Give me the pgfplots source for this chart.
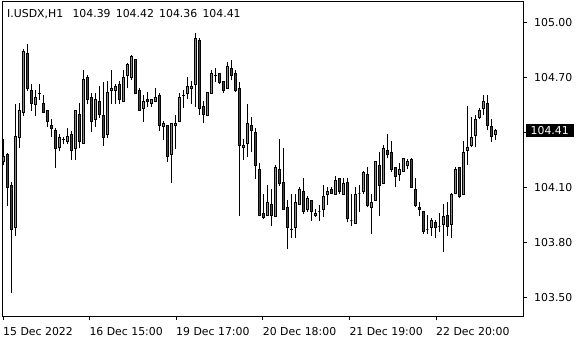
\documentclass[border=0pt]{standalone}
\usepackage{pgfplots}
\usepackage{pgfplotstable}
\pgfplotsset{compat=1.18}
\usepackage{fontspec}
\newfontfamily\mtfont{DejaVu Sans}
\newcommand\mtf{\mtfont\fontsize{10.9bp}{13bp}\selectfont}
\definecolor{bull}{RGB}{60,190,60}
\definecolor{bear}{RGB}{205,10,10}

\pgfdeclareplotmark{candle}{%
  \pgfsetlinewidth{1bp}%
  \pgfsetstrokecolor{black}%
  \pgfpathmoveto{\pgfpoint{0bp}{\cdL bp}}%
  \pgfpathlineto{\pgfpoint{0bp}{\cdH bp}}%
  \pgfusepath{stroke}%
  \ifdim\cdC pt<0pt\relax \pgfsetfillcolor{bear}\else\pgfsetfillcolor{bull}\fi
  \pgfpathrectanglecorners{\pgfpoint{-1bp}{0bp}}{\pgfpoint{1bp}{\cdC bp}}%
  \pgfusepath{fill,stroke}%
}

\pgfplotstableread{
n o h l c
1 104.240 104.364 104.222 104.268
2 104.281 104.286 104.001 104.101
3 104.111 104.128 103.522 103.871
4 103.882 104.555 103.837 104.379
5 104.373 104.559 104.317 104.521
6 104.510 104.855 104.491 104.844
7 104.830 104.882 104.628 104.641
8 104.630 104.662 104.519 104.557
9 104.553 104.631 104.491 104.591
10 104.611 104.662 104.575 104.615
11 104.559 104.604 104.508 104.510
12 104.521 104.522 104.431 104.459
13 104.440 104.473 104.377 104.422
14 104.411 104.422 104.208 104.313
15 104.317 104.393 104.299 104.373
16 104.362 104.377 104.335 104.363
17 104.351 104.422 104.339 104.379
18 104.390 104.408 104.251 104.300
19 104.313 104.522 104.251 104.521
20 104.499 104.559 104.313 104.350
21 104.341 104.741 104.339 104.690
22 104.701 104.713 104.553 104.582
23 104.591 104.613 104.401 104.461
24 104.471 104.613 104.431 104.581
25 104.570 104.653 104.481 104.499
26 104.495 104.673 104.328 104.371
27 104.390 104.681 104.371 104.621
28 104.628 104.741 104.555 104.641
29 104.630 104.662 104.557 104.653
30 104.662 104.681 104.557 104.581
31 104.570 104.739 104.568 104.701
32 104.710 104.781 104.641 104.772
33 104.701 104.822 104.688 104.812
34 104.801 104.802 104.610 104.615
35 104.631 104.641 104.519 104.521
36 104.531 104.604 104.459 104.570
37 104.581 104.619 104.541 104.570
38 104.557 104.582 104.541 104.581
39 104.570 104.642 104.568 104.591
40 104.604 104.613 104.410 104.439
41 104.433 104.462 104.361 104.450
42 104.439 104.440 104.240 104.268
43 104.281 104.451 104.126 104.450
44 104.439 104.495 104.310 104.450
45 104.459 104.613 104.457 104.591
46 104.601 104.630 104.531 104.602
47 104.613 104.701 104.581 104.651
48 104.641 104.681 104.557 104.651
49 104.662 104.941 104.541 104.913
50 104.902 104.913 104.495 104.531
51 104.542 104.570 104.450 104.499
52 104.495 104.621 104.493 104.619
53 104.613 104.739 104.611 104.722
54 104.711 104.750 104.677 104.713
55 104.722 104.724 104.662 104.673
56 104.677 104.679 104.613 104.630
57 104.641 104.782 104.639 104.761
58 104.750 104.795 104.686 104.710
59 104.722 104.739 104.619 104.630
60 104.641 104.673 103.946 104.330
61 104.317 104.362 104.251 104.330
62 104.341 104.555 104.268 104.450
63 104.439 104.482 104.292 104.411
64 104.401 104.422 104.148 104.221
65 104.199 104.231 103.944 103.946
66 103.959 104.062 103.928 103.937
67 103.946 104.111 103.944 104.019
68 104.008 104.091 103.888 103.946
69 103.942 104.222 103.940 104.210
70 104.199 104.362 104.110 104.121
71 104.130 104.313 103.979 103.981
72 103.992 104.030 103.766 103.882
73 103.873 104.062 103.826 103.871
74 103.882 104.062 103.822 104.019
75 104.008 104.102 104.002 104.090
76 104.079 104.150 103.957 103.968
77 103.981 104.051 103.968 104.041
78 104.030 104.031 103.919 103.968
79 103.946 103.981 103.940 103.959
80 103.970 104.002 103.919 103.970
81 103.981 104.111 103.940 104.051
82 104.062 104.101 104.002 104.079
83 104.090 104.101 104.062 104.070
84 104.062 104.162 104.061 104.139
85 104.148 104.150 104.062 104.079
86 104.064 104.150 104.057 104.122
87 104.128 104.150 103.910 103.931
88 103.921 104.062 103.888 103.921
89 103.906 104.101 103.899 104.062
90 104.068 104.113 103.968 104.068
91 104.079 104.190 104.062 104.184
92 104.171 104.210 103.992 104.002
93 103.992 104.062 103.848 104.017
94 104.030 104.244 104.028 104.242
95 104.221 104.293 103.946 104.111
96 104.122 104.330 104.121 104.313
97 104.302 104.390 104.259 104.281
98 104.292 104.353 104.186 104.199
99 104.210 104.211 104.101 104.161
100 104.171 104.231 104.137 104.199
101 104.190 104.261 104.186 104.259
102 104.221 104.253 104.199 104.242
103 104.253 104.259 104.099 104.101
104 104.090 104.150 103.992 104.002
105 103.992 104.019 103.946 103.981
106 103.968 103.970 103.848 103.859
107 103.871 103.948 103.848 103.871
108 103.882 103.931 103.837 103.921
109 103.910 103.921 103.826 103.882
110 103.888 103.959 103.859 103.888
111 103.899 104.008 103.750 103.942
112 103.948 104.019 103.837 103.888
113 103.899 104.068 103.826 104.062
114 104.068 104.210 104.062 104.199
115 104.210 104.211 104.041 104.051
116 104.062 104.353 104.061 104.292
117 104.302 104.544 104.221 104.319
118 104.330 104.482 104.319 104.373
119 104.381 104.495 104.319 104.471
120 104.482 104.531 104.471 104.521
121 104.531 104.602 104.495 104.570
122 104.559 104.602 104.411 104.439
123 104.433 104.471 104.350 104.379
124 104.390 104.420 104.360 104.410
}\candles

\begin{document}
\begin{tikzpicture}
\begin{axis}[
  scale only axis, width=521bp, height=314bp,
  xmin=0.675, xmax=130.925, ymin=103.399, ymax=105.112,
  clip=false,
  axis line style={black, line width=1bp},
  tick align=outside, major tick length=4bp,
  tick style={black, line width=1bp},
  xtick pos=bottom, ytick pos=right, yticklabel pos=right,
  xtick={0.925,22.5,44.175,65.85,87.5,109.175},
  xticklabels={15 Dec 2022,16 Dec 15:00,19 Dec 17:00,20 Dec 18:00,21 Dec 19:00,22 Dec 20:00},
  ytick={103.5,103.8,104.1,104.4,104.7,105.0},
  yticklabels={103.50,103.80,104.10,,104.70,105.00},
  xticklabel style={font=\mtf, anchor=base west, inner sep=0pt, yshift=-15bp},
  yticklabel style={font=\mtf, anchor=west, inner sep=0pt, xshift=7bp},
]
\addplot[only marks, mark=candle,
  visualization depends on={(\thisrow{h}-\thisrow{o})*183.3 \as \cdH},
  visualization depends on={(\thisrow{l}-\thisrow{o})*183.3 \as \cdL},
  visualization depends on={(\thisrow{c}-\thisrow{o})*183.3 \as \cdC},
] table[x=n, y=o] {\candles};
\node[anchor=base west, inner sep=0pt, font=\mtf, xshift=5bp, yshift=-15.3bp]
  at (rel axis cs:0,1) {I.USDX,H1\hspace{9.3bp}104.39\hspace{5.2bp}104.42\hspace{5.2bp}104.36\hspace{5.2bp}104.41};
\node[anchor=west, fill=black, text=white, inner sep=0pt, minimum width=47.6bp,
  minimum height=13.4bp, font=\mtf, xshift=2.7bp] at (axis cs:130.925,104.41) {104.41};
\end{axis}
\pgfresetboundingbox
\path[use as bounding box] (-2bp,-24bp) rectangle (578bp,316bp);
\end{tikzpicture}
\end{document}
